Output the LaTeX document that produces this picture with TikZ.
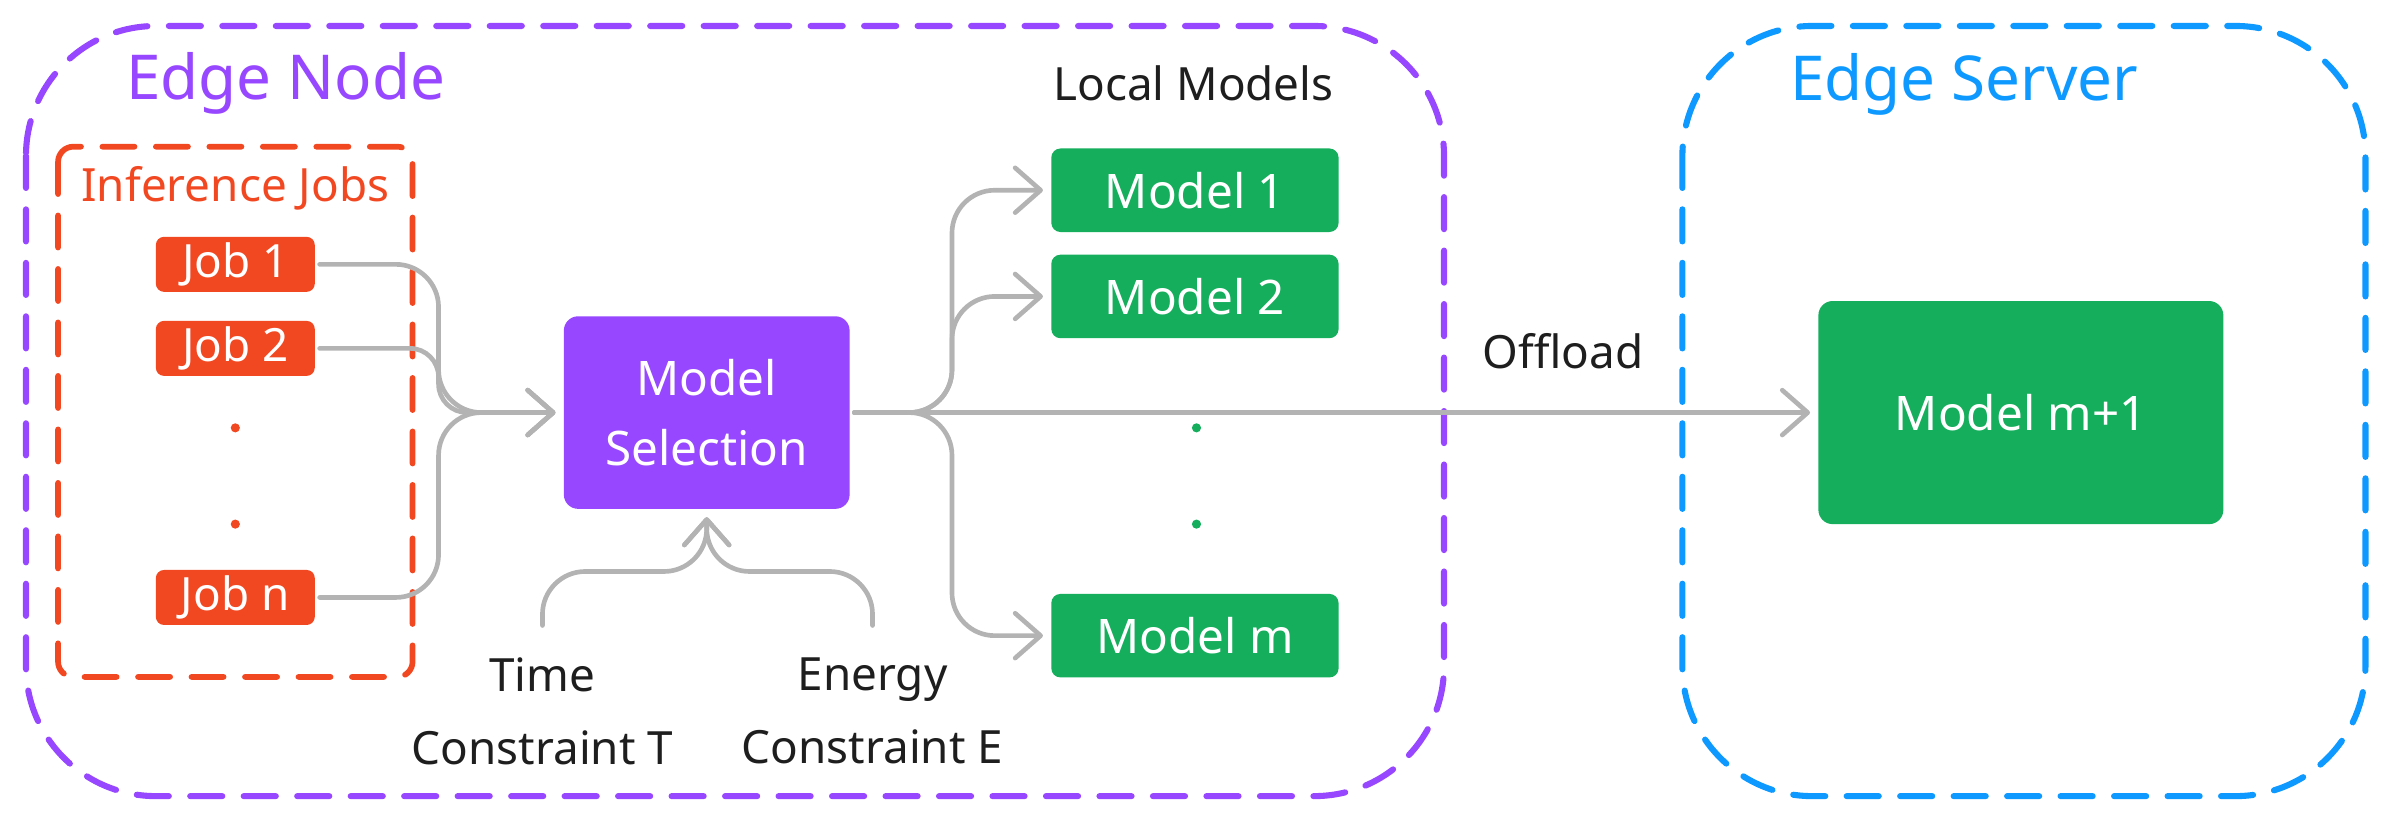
\documentclass[tikz,border=0pt]{standalone}
\usepackage{fontspec}
\setmainfont{Noto Sans}
\usetikzlibrary{arrows.meta,calc}
\definecolor{nodepurple}{HTML}{9747FF}
\definecolor{jobred}{HTML}{F24822}
\definecolor{modelgreen}{HTML}{14AE5C}
\definecolor{serverblue}{HTML}{0D99FF}
\definecolor{flowgray}{HTML}{B3B3B3}
\definecolor{labeldark}{HTML}{1E1E1E}
\tikzset{
  zone/.style={line width=1.7pt, line cap=round, dash pattern=on 3.15mm off 2.1mm,
               rounded corners=12.75mm},
  jobbox/.style={fill=jobred, text=white, rounded corners=0.8mm, minimum width=15.6mm,
                 minimum height=5.4mm, inner sep=0pt, font=\fontsize{12.8}{15}\selectfont},
  modelbox/.style={fill=modelgreen, text=white, rounded corners=0.9mm, minimum width=28.2mm,
                   minimum height=8.2mm, inner sep=0pt, font=\fontsize{13.3}{16}\selectfont},
  selbox/.style={fill=nodepurple, text=white, rounded corners=1.4mm, minimum width=28.05mm,
                 minimum height=18.9mm, inner sep=0pt, align=center,
                 font=\fontsize{13.3}{19.6}\selectfont},
  plaintext/.style={text=labeldark, inner sep=0pt, font=\fontsize{12.8}{20.5}\selectfont},
  flow/.style={draw=flowgray, line width=1.3pt, line cap=round, rounded corners=4.2mm,
               shorten <=0.4mm, shorten >=0.75mm,
               -{Straight Barb[length=2.5mm, width=4.4mm, round]}},
}

\begin{document}
\begin{tikzpicture}[x=0.15mm, y=-0.15mm]
    \useasboundingbox (0,0) rectangle (1568,547);
    % frames
    \draw[zone, nodepurple] (17,17) rectangle (945,521);
    \draw[zone, serverblue] (1101,17) rectangle (1548,521);
    \draw[zone, jobred, line width=1.6pt, rounded corners=1.5mm] (38,96) rectangle (270,443);
    \node[anchor=base west, inner sep=0pt, text=nodepurple, font=\fontsize{17.3}{20}\selectfont] (ntitle) at (82,65) {Edge Node};
    \node[anchor=base west, inner sep=0pt, text=serverblue, font=\fontsize{17.3}{20}\selectfont] (stitle) at (1171,66) {Edge Server};
    \node[anchor=base, inner sep=0pt, text=jobred, font=\fontsize{12.8}{15}\selectfont] (jtitle) at (154,132) {Inference Jobs};
    % jobs
    \node[jobbox] (j1) at (154,173) {Job 1};
    \node[jobbox] (j2) at (154,228) {Job 2};
    \node[jobbox] (jn) at (154,391) {Job n};
    \fill[jobred] (154,280) circle (0.45mm);
    \fill[jobred] (154,343) circle (0.45mm);
    \node[selbox] (ms) at (462.5,270) {Model\\Selection};
    \node[plaintext, align=center, anchor=north] (tc) at (355,430) {Time\\Constraint T};
    \node[plaintext, align=center, anchor=north] (ec) at (571,430) {Energy\\Constraint E};
    % models
    \node[plaintext, anchor=base] (lm) at (781,66) {Local Models};
    \node[modelbox] (m1) at (782,124.5) {Model 1};
    \node[modelbox] (m2) at (782,194) {Model 2};
    \node[modelbox] (mm) at (782,416) {Model m};
    \fill[modelgreen] (783,280) circle (0.45mm);
    \fill[modelgreen] (783,343) circle (0.45mm);
    \node[modelbox, minimum width=39.75mm, minimum height=21.9mm, rounded corners=1.4mm] (srv) at (1322.5,270) {Model m+1};
    \node[plaintext, anchor=base] (offl) at (1023,241) {Offload};
    % connectors
    \coordinate (jin) at (287,270);
    \coordinate (cin) at (462.5,374);
    \coordinate (mout) at (623,270);
    \draw[flow] (j1.east) -| (jin) -- (ms.west);
    \draw[flow, rounded corners=2.8mm] (j2.east) -| (jin) -- (ms.west);
    \draw[flow] (jn.east) -| (jin) -- (ms.west);
    \draw[flow] ([yshift=2.7mm]tc.north) |- (cin) -- (ms.south);
    \draw[flow] ([yshift=2.7mm]ec.north) |- (cin) -- (ms.south);
    \draw[flow] (ms.east) -| (mout |- m1.west) -- (m1.west);
    \draw[flow] (ms.east) -| (mout |- m2.west) -- (m2.west);
    \draw[flow] (ms.east) -| (mout |- mm.west) -- (mm.west);
    \draw[flow] (ms.east) -- (srv.west);
\end{tikzpicture}
\end{document}
